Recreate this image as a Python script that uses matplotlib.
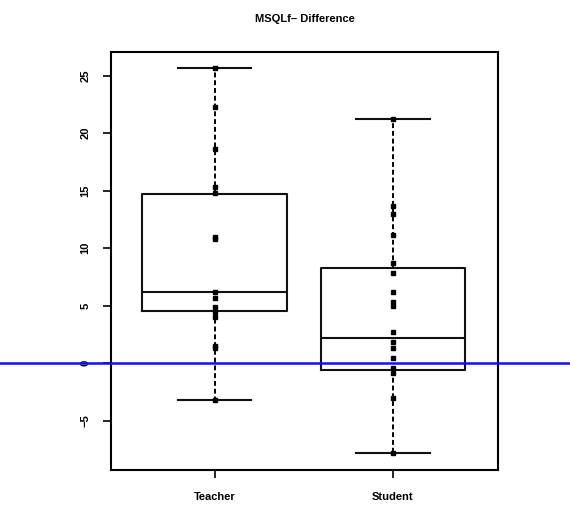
import matplotlib
matplotlib.use('Agg')
import matplotlib.pyplot as plt
import matplotlib.transforms as mtransforms

plt.rcParams['font.family'] = ['Liberation Sans', 'DejaVu Sans']

groups = ['Teacher', 'Student']
teacher = [25.7, 22.3, 18.6, 15.3, 14.8, 11.0, 10.8, 6.2, 5.7, 4.9, 4.4, 4.0, 1.5, 1.3, -3.2]
student = [21.2, 13.7, 13.0, 11.1, 8.7, 7.8, 6.2, 5.3, 5.0, 2.7, 1.8, 1.3, 0.4, -0.4, -0.9, -3.0, -7.8]
# box stats as drawn (R hinges)
q1 = [4.5, -0.6]
med = [6.2, 2.2]
q3 = [14.7, 8.3]
whislo = [-3.2, -7.8]
whishi = [25.7, 21.2]
yticks = [-5, 0, 5, 10, 15, 20, 25]

fig = plt.figure(figsize=(5.7, 5.07), dpi=100)
ax = fig.add_axes([0.195, 0.073, 0.679, 0.824])

stats = []
for i in range(2):
    stats.append(dict(med=med[i], q1=q1[i], q3=q3[i], whislo=whislo[i],
                      whishi=whishi[i], fliers=[], label=groups[i]))

ax.bxp(stats, positions=[1, 2], widths=0.81, showfliers=False,
       boxprops=dict(color='#111111', lw=1.5),
       medianprops=dict(color='#111111', lw=1.5),
       whiskerprops=dict(color='black', lw=1.4, ls=(0, (2.5, 1.5))),
       capprops=dict(color='#111111', lw=1.5), capwidths=0.41)

for pos, vals in zip([1, 2], [teacher, student]):
    ax.plot([pos] * len(vals), vals, 's', color='black', ms=3.4, zorder=3)

# horizontal reference line at 0, running across the whole figure
trans = mtransforms.blended_transform_factory(fig.transFigure, ax.transData)
ax.plot([0, 1], [0, 0], color='#1010f0', lw=1.8, transform=trans, clip_on=False, zorder=4)

ax.set_xlim(0.42, 2.59)
ax.set_ylim(-9.3, 27.04)
ax.set_xticks([1, 2])
ax.set_xticklabels(groups, fontsize=8, fontweight='bold')
ax.set_yticks(yticks)
ax.set_yticklabels([str(t).replace('-', '\u2212') for t in yticks], rotation=90,
                   va='center', fontsize=8, fontweight='bold')
ax.tick_params(length=6, width=1.2, pad=9)
ax.tick_params(axis='x', pad=10)
for s in ax.spines.values():
    s.set_linewidth(1.5)
ax.set_title('MSQLf\u2013 Difference', fontsize=8, fontweight='bold', pad=22)

fig.savefig('out.png', dpi=100)
